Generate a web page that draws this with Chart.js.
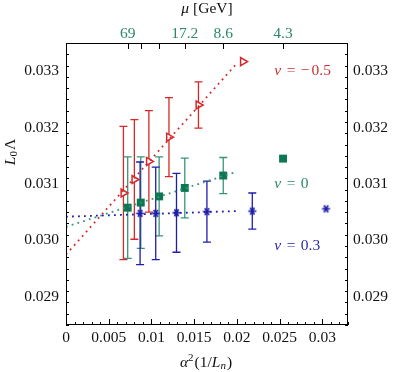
<!DOCTYPE html>
<html><head><meta charset="utf-8">
<script src="https://cdn.jsdelivr.net/npm/chart.js@4.4.1/dist/chart.umd.min.js"></script>
<style>html,body{margin:0;padding:0;background:#fff}canvas{display:block}</style>
</head><body>
<canvas id="c" width="394" height="372" style="width:394px;height:372px"></canvas>
<script>
const xTicks=[0,0.005,0.01,0.015,0.02,0.025,0.03];
const xTickLabels=['0','0.005','0.01','0.015','0.02','0.025','0.03'];
const yTicks=[0.029,0.030,0.031,0.032,0.033];
const yTickLabels=['0.029','0.030','0.031','0.032','0.033'];
const muTickX=[0.00722,0.00875,0.0109,0.0139,0.0184,0.0254];
const muTickLabels=['69','','','17.2','8.6','4.3'];

const redX=[0.00672,0.0080,0.0097,0.01205,0.0155,0.0207];
const redY=[0.03084,0.03108,0.0314,0.03183,0.0324,0.03317];
const redErr=[0.00118,0.00106,0.0009,0.0007,0.00041,null];
const greenX=[0.00722,0.00875,0.0109,0.0139,0.0184,0.0254];
const greenY=[0.03058,0.03067,0.03078,0.03093,0.03115,0.03145];
const greenErr=[0.0009,0.00081,0.0007,0.00053,0.00032,null];
const blueX=[0.00867,0.0105,0.01293,0.01649,0.0218,0.03043];
const blueY=[0.03048,0.03048,0.03049,0.03051,0.03052,0.03056];
const blueErr=[0.00091,0.00082,0.0007,0.00054,0.00032,null];
const fitX=[0,0.02];
const redFit=[0.02975,0.03314];
const greenFit=[0.03024,0.03122];
const blueFit=[0.03042,0.03052];
const nuValues=['\u22120.5','0','0.3'];
const nuLabelX=[0.02437,0.02437,0.02437];
const nuLabelY=[0.033,0.0310,0.0299];

const RED='#d62828', GREEN='#0d7752', GREENBAR='#3a947a', BLUE='#1e1eaa', TEAL='#2a8868';
const FONT='Liberation Serif';
const FS=15.5;

function pts(xs,ys){return xs.map((x,i)=>({x:x,y:ys[i]}));}

const star=document.createElement('canvas');
star.width=11;star.height=11;
(function(){const g=star.getContext('2d');g.strokeStyle=BLUE;g.lineWidth=1.7;
 const c=5.5,r=4;[0,Math.PI/3,2*Math.PI/3].forEach(a=>{g.beginPath();g.moveTo(c-r*Math.cos(a),c-r*Math.sin(a));g.lineTo(c+r*Math.cos(a),c+r*Math.sin(a));g.stroke();});})();

const errSets=[
 {x:redX,y:redY,e:redErr,color:RED},
 {x:greenX,y:greenY,e:greenErr,color:GREENBAR},
 {x:blueX,y:blueY,e:blueErr,color:BLUE}
];
const nuColors=['#cc3030',TEAL,'#2a2aa8'];

function rich(ctx,parts,x,y,align){
 let w=0;
 parts.forEach(p=>{ctx.font=(p.it?'italic ':'')+(p.sz||FS)+'px "'+FONT+'"';p.w=ctx.measureText(p.t).width;w+=p.w+(p.gap||0);});
 let cx=align==='center'?x-w/2:x;
 parts.forEach(p=>{ctx.font=(p.it?'italic ':'')+(p.sz||FS)+'px "'+FONT+'"';ctx.fillText(p.t,cx,y+(p.dy||0));cx+=p.w+(p.gap||0);});
}

const deco={
 id:'deco',
 beforeDatasetsDraw(chart){
  const ctx=chart.ctx,xs=chart.scales.x,ys=chart.scales.y;
  ctx.save();ctx.lineWidth=1.3;
  errSets.forEach(s=>{
   ctx.strokeStyle=s.color;
   s.x.forEach((xv,i)=>{
    if(s.e[i]==null)return;
    const px=xs.getPixelForValue(xv),p1=ys.getPixelForValue(s.y[i]+s.e[i]),p2=ys.getPixelForValue(s.y[i]-s.e[i]);
    ctx.beginPath();
    ctx.moveTo(px,p1);ctx.lineTo(px,p2);
    ctx.moveTo(px-4,p1);ctx.lineTo(px+4,p1);
    ctx.moveTo(px-4,p2);ctx.lineTo(px+4,p2);
    ctx.stroke();
   });
  });
  ctx.restore();
 },
 afterDraw(chart){
  const ctx=chart.ctx,a=chart.chartArea,xs=chart.scales.x,ys=chart.scales.y,xt=chart.scales.x2;
  ctx.save();
  ctx.strokeStyle='#000';ctx.lineWidth=1;
  ctx.strokeRect(Math.round(a.left)+0.5,Math.round(a.top)+0.5,Math.round(a.right-a.left)-1,Math.round(a.bottom-a.top)-1);
  ctx.beginPath();
  for(let k=0;k<=33;k++){
   const v=k*0.001;const px=Math.round(xs.getPixelForValue(v))+0.5;
   const L=(k%5===0)?6:3;
   ctx.moveTo(px,a.bottom);ctx.lineTo(px,a.bottom-L);
  }
  muTickX.forEach(v=>{const px=Math.round(xt.getPixelForValue(v))+0.5;ctx.moveTo(px,a.top);ctx.lineTo(px,a.top+6);});
  for(let k=0;k<=25;k++){
   const v=0.0285+k*0.0002;const py=Math.round(ys.getPixelForValue(v))+0.5;
   const major=Math.abs((v*1000)-Math.round(v*1000))<1e-6;
   const L=major?6:3;
   ctx.moveTo(a.left,py);ctx.lineTo(a.left+L,py);
   ctx.moveTo(a.right,py);ctx.lineTo(a.right-L,py);
  }
  ctx.stroke();
  ctx.textBaseline='middle';ctx.textAlign='left';
  nuValues.forEach((t,i)=>{
   ctx.fillStyle=nuColors[i];
   const v=t.charAt(0)==='\u2212'?[{t:'\u2212',gap:2},{t:t.slice(1)}]:[{t:t}];
   rich(ctx,[{t:'\u03bd',it:true,gap:5.5},{t:'=',gap:5.5}].concat(v),xs.getPixelForValue(nuLabelX[i]),ys.getPixelForValue(nuLabelY[i]),'left');
  });
  ctx.fillStyle='#111';
  const cxm=(a.left+a.right)/2;
  rich(ctx,[{t:'\u03bc',it:true,gap:4},{t:'[GeV]'}],cxm,9,'center');
  rich(ctx,[{t:'\u03b1',it:true},{t:'2',sz:11,dy:-5,gap:1},{t:'(1/'},{t:'L',it:true},{t:'n',it:true,sz:11,dy:3,gap:1},{t:')'}],cxm-1,363,'center');
  ctx.save();ctx.translate(11,152);ctx.rotate(-Math.PI/2);
  rich(ctx,[{t:'L',it:true},{t:'0',sz:11,dy:3,gap:1},{t:'\u039b'}],0,0,'center');
  ctx.restore();
  ctx.restore();
 }
};

const fitStyle=(c)=>({type:'line',showLine:true,pointRadius:0,borderColor:c,borderWidth:1.8,borderDash:[1.8,4.2],fill:false,tension:0});

new Chart(document.getElementById('c'),{
 type:'scatter',
 data:{datasets:[
  Object.assign({data:pts(fitX,redFit)},fitStyle(RED)),
  Object.assign({data:pts(fitX,greenFit)},fitStyle(GREENBAR)),
  Object.assign({data:pts(fitX,blueFit)},fitStyle(BLUE)),
  {data:pts(greenX,greenY),pointStyle:'rect',pointRadius:5.6,backgroundColor:GREEN,borderColor:GREEN,borderWidth:0},
  {data:pts(redX,redY),pointStyle:'triangle',rotation:90,pointRadius:4.6,backgroundColor:'#fff',borderColor:RED,borderWidth:1.5},
  {data:pts(blueX,blueY),pointStyle:star,pointRadius:5}
 ]},
 options:{
  responsive:false,devicePixelRatio:1,animation:false,
  plugins:{legend:{display:false},tooltip:{enabled:false}},
  layout:{padding:0},
  scales:{
   x:{type:'linear',position:'bottom',min:0,max:0.033,
    grid:{display:false,drawTicks:false},border:{display:false},
    afterBuildTicks:s=>{s.ticks=xTicks.map(v=>({value:v}));},
    afterFit:s=>{s.height=47;},
    ticks:{autoSkip:false,maxRotation:0,padding:4,color:'#111',font:{family:FONT,size:FS},
     callback:(v,i)=>xTickLabels[i]}
   },
   x2:{type:'linear',position:'top',min:0,max:0.033,
    grid:{display:false,drawTicks:false},border:{display:false},
    afterBuildTicks:s=>{s.ticks=muTickX.map(v=>({value:v}));},
    afterFit:s=>{s.height=43;},
    ticks:{autoSkip:false,maxRotation:0,padding:0,color:TEAL,font:{family:FONT,size:FS},
     callback:(v,i)=>muTickLabels[i]}
   },
   y:{type:'linear',position:'left',min:0.0285,max:0.0335,
    grid:{display:false,drawTicks:false},border:{display:false},
    afterBuildTicks:s=>{s.ticks=yTicks.map(v=>({value:v}));},
    afterFit:s=>{s.width=66;},
    ticks:{autoSkip:false,padding:7,color:'#111',font:{family:FONT,size:FS},
     callback:(v,i)=>yTickLabels[i]}
   },
   y2:{type:'linear',position:'right',min:0.0285,max:0.0335,
    grid:{display:false,drawTicks:false},border:{display:false},
    afterBuildTicks:s=>{s.ticks=yTicks.map(v=>({value:v}));},
    afterFit:s=>{s.width=46;},
    ticks:{autoSkip:false,padding:5,color:'#111',font:{family:FONT,size:FS},
     callback:(v,i)=>yTickLabels[i]}
   }
  }
 },
 plugins:[deco]
});
</script>
</body></html>
